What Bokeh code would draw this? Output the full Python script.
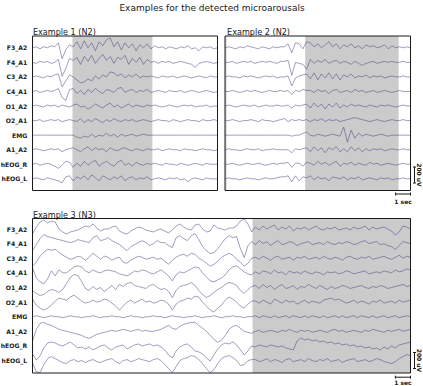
import numpy as np
from bokeh.plotting import figure
from bokeh.layouts import column, row
from bokeh.models import Range1d
from bokeh.embed import file_html
from bokeh.resources import INLINE
from bokeh.core.properties import value

# ------------------------------------------------------------------ data
TITLE = "Examples for the detected microarousals"
CHANNELS = ["F3_A2", "F4_A1", "C3_A2", "C4_A1", "O1_A2", "O2_A1",
            "EMG", "A1_A2", "hEOG_R", "hEOG_L"]
UV_PER_UNIT = 12.5      # amplitude lists below are in units of 12.5 uV
SCALE_UV = 200
SCALE_SEC = 1

# Example 1 (N2): 12.5 s window, samples every 0.25 s
EX1_TITLE = "Example 1 (N2)"
EX1_SECONDS = 12.5
EX1_AROUSALS = [(2.7, 8.1)]
EX1_F3_A2 = [0, 1, -1, 1, 0, 2, 1, 5, -11, -2, 3, 1, 6, -1, 7, 0, 5, -3, 6, 2, 8, 10, 1, 6, -2, 5, 0, 4, -3, 3, 0, 4, -1,
             2, 0, 1, -1, 1, 0, -1, 1, 0, 2, -1, 0, -3, 1, 0, 1, -1, 0]
EX1_F4_A1 = [0, -1, 1, 0, 1, -1, 0, 3, -14, -6, 4, 2, 5, -2, 6, 1, 7, -1, 4, 8, 2, 6, -1, 5, 3, 7, -2, 4, 0, 5,
             -2, 3, 0, 1, -1, 1, 0, 1, -1, 0, 1, 0, -1, -2, -5, -1, 0, 1, 0, -1, 0]
EX1_C3_A2 = [0, 1, 0, -1, 1, 0, 2, 3, -10, -4, 2, 0, -3, -6, -5, -2, -4, 1, -2, 2, 0, 5, 4, 1, 3, -1, 2, 0, 3, -1,
             1, 0, 1, 0, -1, 1, 0, 0, 1, -1, 0, 1, 0, -1, 0, 1, 0, -1, 1, 0, 0]
EX1_C4_A1 = [0, 1, -1, 0, 1, 0, 1, 3, -6, -9, 2, 3, -2, 1, -3, 2, -1, 3, 0, -2, 2, 1, -1, 3, 4, -1, 1, 2, -1, 1,
             0, 2, -1, 0, 1, 0, -1, 1, 0, 0, 1, -1, 0, 1, 0, -1, 0, 1, 0, -1, 0]
EX1_O1_A2 = [0, 1, 0, -1, 1, 0, 1, -1, 1, 0, -1, 1, 2, -1, 0, -3, -1, 2, 0, -2, 1, 3, -1, 1, -2, 0, 2, -1, 1, 0,
             -1, 1, 0, 1, 0, -1, 0, 1, 0, -1, 0, 1, 0, 1, -1, 0, 0, 1, -1, 0, 0]
EX1_O2_A1 = [0, 0, 1, -1, 0, 1, 0, 1, -1, 0, 1, 0, -1, 2, -2, 1, -1, 2, 0, -2, 1, -1, 2, 0, -1, 1, 0, 1, -1, 0,
             1, 0, -1, 0, 1, 0, 0, -1, 1, 0, -1, 0, 1, 0, 0, -1, 1, 0, 0, 1, 0]
EX1_EMG = [0, 0, 0, 0, 0, 0, 0, 0, 0, 0, 0,
           0, -2, -3, -1, -2, 1, -2, 0, -1, 2, -1, 1, -2, 1, -1, 0, 1, -1, 0, 1, 0, 0,
           0, 0, 0, 0, 0, 0, 0, 0, 0, 0, 0, 0, 0, 0, 0, 0, 0, 0]
EX1_A1_A2 = [0, 1, 0, -1, 0, 1, 0, 1, -2, 0, 1, 2, 0, -2, 1, 3, -1, 2, 0, 1, -2, 2, 0, -1, 1, 2, 0, -1, 1, 0,
             -1, 1, 0, 0, 1, -1, 0, 1, 0, 0, -1, 1, 0, 0, -1, 0, 1, 0, 0, -1, 0]
EX1_hEOG_R = [0, 1, -1, 0, 1, 0, -2, -4, -1, 3, 2, -3, 1, -2, 3, -1, 2, 4, -2, 1, 3, 0, -2, 2, 4, -1, 1, -2, 2, 0,
              -1, 1, 0, 1, 0, -1, 1, 0, 0, -1, 1, 0, -1, 0, 1, 0, -1, 1, 0, 0, 0]
EX1_hEOG_L = [0, 1, 0, -1, 1, 0, -1, -2, -4, 2, 3, -2, 2, 0, 3, -1, 4, 1, -2, 3, 1, -1, 2, 0, 3, -2, 1, 2, -1, 1,
              0, 2, -1, 0, 1, 0, -1, 1, 0, 1, -1, 0, -3, 0, 1, 0, -1, 1, 0, 0, 0]

# Example 2 (N2): 12.5 s window, samples every 0.25 s
EX2_TITLE = "Example 2 (N2)"
EX2_SECONDS = 12.5
EX2_AROUSALS = [(0.0, 0.1), (5.4, 11.7)]
EX2_F3_A2 = [0, 1, 0, -1, 1, 0, 2, 1, 0, -1, 1, 0, -1, 1, 0, 1, 1, 4, -5, 5, 4, -1, 6,
             5, 1, 4, 0, 3, 6, 1, 4, -1, 3, 1, 4, 0, 2, -1, 3, 1, 2, 0, 1, 3, -1, 2, 0, 1, 0, 1, 0]
EX2_F4_A1 = [0, 0, 1, -1, 0, 1, 0, 1, -1, 0, 1, 0, 1, 0, -1, 1, 1, 2, -13, 0, -1, -2, -7,
             3, -1, 2, 0, 3, -1, 1, 2, -1, 1, 0, -2, 1, -1, -3, -1, 0, 1, -1, 0, 1, 0, 1, 0, 0, 1, 0, 0]
EX2_C3_A2 = [0, 1, 0, 0, -1, 1, 0, 1, 0, -1, 0, 1, 0, 1, -1, 0, 0, 1, -9, -1, 1, 2, 3,
             -2, 4, -3, 3, -1, 4, -2, 3, -3, 2, 0, 3, -1, 1, 0, 2, -1, 1, 0, 1, -1, 0, 1, 0, 0, 1, 0, 0]
EX2_C4_A1 = [0, 0, 1, 0, -1, 0, 1, 0, 1, 0, -1, 0, 1, 0, 0, 1, 0, 1, -3, 1, 0, 2, 1,
             1, -1, 2, 0, 1, -2, 1, 2, -1, 0, 1, -1, 2, 0, 1, -1, 0, 1, -1, 0, 1, 0, -1, 0, 1, 0, 0, 0]
EX2_O1_A2 = [0, 1, 0, -1, 0, 1, 0, 0, 1, -1, 0, 1, 0, 0, 1, 0, 0, 1, -2, 1, 0, 1, 2,
             -2, 3, -1, 2, -3, 2, -1, 3, -2, 1, -1, 2, 0, 1, 0, -1, 1, 0, -1, 1, 0, 1, 0, -1, 0, 1, 0, 0]
EX2_O2_A1 = [0, 0, 1, 0, -1, 0, 0, 1, 0, -1, 1, 0, 0, -1, 0, 1, 2, -1, 1, 0, 1, 0, 1,
             -1, 1, 0, 2, -1, 1, 0, 1, -1, 0, 1, 2, 3, 2, 1, 0, -1, 0, 1, 0, -1, 0, 1, 0, 0, 1, 0, 0]
EX2_EMG = [0, 0, 0, 0, 0, 0, 0, 0, 0, 0, 0, 0, 0, 0, 0, 0, 0, 0, -1, 0, 0, 2, 3,
           0, -1, 1, 0, -1, 0, 1, 0, -1, 8, -7, 5, -3, 2, -1, 1, 0, -1, 0, 1, 0, -1, 0, 0, 0, 0, 0, 0]
EX2_A1_A2 = [0, 1, 0, 0, -1, 0, 1, 0, 0, 1, -1, 0, 0, 1, 0, 0, 0, 0, -3, 1, 0, 1, 2,
             -2, 3, -1, 2, -3, 2, 0, 3, -2, 1, -2, 3, -1, 2, -2, 1, -1, 1, 0, 1, -1, 0, 1, 0, 0, 1, 0, 0]
EX2_hEOG_R = [0, 0, 1, 0, -1, 0, 1, 0, 0, 1, 0, -1, 0, 1, 0, 1, 1, 2, -3, 1, 1, -2, 2,
              1, -1, 3, 0, 2, -1, 1, 3, -2, 1, 0, 2, -1, 1, 0, -1, 2, 0, 1, -1, 0, 1, 0, -1, 0, 1, 0, 0]
EX2_hEOG_L = [0, 1, 0, 0, -1, 0, 1, 0, 0, -1, 0, 1, 0, 0, 1, 2, 2, 3, -3, 3, -2, 2, 1,
              3, -1, 2, 0, 1, -2, 2, 1, 0, 2, -1, 1, 0, 2, -1, 0, 1, 0, -1, 1, 0, 1, -1, 0, 0, 1, 0, 0]

# Example 3 (N3): 25 s window, samples every 0.25 s
EX3_TITLE = "Example 3 (N3)"
EX3_SECONDS = 25.0
EX3_AROUSALS = [(14.55, 25.0)]
EX3_F3_A2 = [-5, 2, 7, 9, 6, 8, 7, 0, -3, -5, -3, -2, -1, 1, 3, 2, 5, 1, -2, 0,
             0, 2, 3, -2, -4, -5, -2, 0, 2, 1, -1, -2, -3, -1, 0, -2, -4, -1, 3, 5,
             2, 0, -1, 4, 5, 0, -3, -2, 4, 1, 0, -1, 1, 1, 3, 8, 10, 5, -3,
             2, -1, 3, 0, 2, 4, -1, 2, 0, 3, -2, 1, 0, 2, -1, 1, 3, 0, -1, 1,
             0, 2, -1, 0, 1, -1, 2, 0, 1, 3, -1, 2, 0, 1, 2, 0, -2, -6, -3, 3, 2, 0]
EX3_F4_A1 = [-7, -1, 5, 9, 7, 6, 5, 4, 3, 2, 1, 2, 4, 3, 2, 1, 6, 8, 3, 4,
             6, 3, 1, -1, -4, -7, -3, -1, 1, 3, 1, -2, 0, 3, 1, 1, -2, -4, 6, 8,
             5, 3, 8, 10, 4, -3, -7, -10, -9, -5, 0, 5, 8, 6, 7, -5, -14, -2, 2,
             -1, 3, 0, 2, -2, 1, 3, -1, 0, 2, 1, -2, 0, 1, 2, -1, 0, 1, -1, 2,
             0, -1, 1, 0, 2, 1, -1, 0, 2, 3, 0, 1, 2, -1, 0, -2, -3, -6, -2, 2, 1, 0]
EX3_C3_A2 = [-8, -4, 2, 6, 9, 8, 9, 6, 3, 1, -1, 0, 2, 1, -2, 1, 5, 2, -1, 2,
             1, -2, 0, 1, -4, -5, -2, 0, 2, 1, -1, 0, 1, -1, 0, -3, -6, -2, 1, 3,
             4, 2, 5, 4, 0, -2, -5, -8, -6, -3, 1, 3, 5, 3, -1, -4, -8, -5, 0,
             1, -1, 2, 0, -2, 1, 2, -1, 0, 1, -2, 1, 0, 2, -1, 0, 1, -1, 2, 0,
             -1, 1, 0, -2, 1, 2, 0, -1, 1, 0, 2, -1, 0, 1, 2, 0, -1, 1, 3, 0, 2, 1]
EX3_C4_A1 = [5, -5, -9, -11, -6, 2, -3, 3, 0, 0, 3, 6, 7, 6, 2, 0, 3, 1, 0, 2,
             3, 2, 1, -1, -2, -3, -1, 2, 1, 3, 2, 0, -1, 1, 3, 0, -3, -8, -2, 1,
             0, 2, 4, 6, 5, 0, -4, -8, -9, -7, -5, -2, 3, 6, 7, 4, 1, -1, -2,
             1, -1, 2, 1, -1, 3, 0, 1, -2, 2, 0, 1, -1, 2, 0, -1, 1, 0, -2, 1,
             0, 1, -1, 0, 2, 1, -1, 0, 1, 2, -1, 0, 1, 0, 2, 1, 0, 3, 1, 2, 4, 3]
EX3_O1_A2 = [-3, -6, -8, -7, -4, -2, -3, -5, -2, 4, 10, 13, 12, 6, -1, -3, 1, -2, 0, -4,
             -1, 2, -2, 3, 1, 4, 5, 2, 1, 0, -1, 2, 3, 0, -2, -1, -4, -10, -3, 1,
             2, 3, 5, 2, -3, -7, -10, -8, -5, -2, 0, 3, 5, 4, 2, -3, -6, -2, 1,
             2, -1, 3, 0, 2, -2, 1, 3, -1, 0, 2, -2, 1, 0, 3, 1, -1, 2, 0, -2,
             1, -1, 0, 2, 1, -1, 0, 1, 2, 0, -1, 1, 0, 2, 1, -1, 0, 1, 2, 3, 1, 2]
EX3_O2_A1 = [3, -3, -6, -8, -6, -3, 1, 4, 3, 2, 5, 7, 4, 1, -1, 0, 2, 0, 1, 3,
             2, -1, -4, -8, -4, 0, 2, -1, 1, 3, 0, 1, -1, 0, 2, 1, -2, -8, -2, 1,
             2, 4, 3, 6, 5, 0, -4, -8, -10, -6, -3, 2, 5, 3, 0, -4, -6, -2, 1,
             1, -1, 2, 0, -2, 3, 1, -1, 2, 0, 1, -2, 0, 2, -1, 1, 0, -1, 2, 3,
             4, 2, 3, 1, -1, 0, 2, -1, 1, 0, -2, 1, 0, 2, -1, 0, 1, -1, 2, 0, 1, 2]
EX3_EMG = [0, 1, 0, -1, 0, 1, 0, 0, -1, 0, 1, 0, 0, -1, 0, 0, 1, 0, -1, 0,
           0, 1, 0, 0, -1, 0, 1, 0, 0, -1, 0, 0, 1, 0, 0, -1, 0, 1, 0, 0,
           -1, 0, 0, 1, 0, -1, 0, 0, 1, 0, -1, 0, 0, 1, 0, 0, -1, 0, 0,
           1, -1, 1, 0, -1, 1, -1, 0, 1, -1, 1, 0, -1, 1, -1, 1, 0, -1, 1, -1,
           0, 1, -1, 1, -1, 0, 1, -1, 1, 0, -1, 1, -1, 0, 1, -1, 0, 1, -1, 0, 1, 0]
EX3_A1_A2 = [-10, 2, 8, 9, 7, 6, 4, 2, 1, 0, -1, -2, -3, -4, -6, -7, -5, -3, -2, -1,
             0, 1, 0, 1, 2, 1, 0, 1, 2, 0, 1, 0, 0, 1, 2, 4, 6, 3, 2, 5,
             7, 8, 9, 9, 6, 3, 0, -4, -8, -11, -9, -4, 2, 5, 6, 3, 0, -1, -2,
             0, 1, -1, 0, 1, 0, -1, 1, 0, 2, 0, -1, 1, 0, 1, -1, 0, 1, 0, -1,
             1, 2, 0, 1, -1, 0, 1, 0, -1, 1, 0, 2, 1, 0, -1, 1, 0, 1, 2, 0, 1, 2]
EX3_hEOG_R = [-8, -14, -10, -2, 3, 4, 3, 1, 0, 2, 4, 1, -2, -1, -3, -1, -4, -2, 0, 1,
              -2, -4, -1, 0, 1, -3, -1, 1, 2, 0, 1, 2, 0, 1, -1, -4, -9, -12, -5, -1,
              1, 2, -1, -5, -6, -8, -12, -15, -9, -3, 1, 3, 2, 4, 1, -4, -9, -5, 0,
              -1, 1, 0, -1, 1, 0, -1, 0, -2, -3, -4,
              5, 8, 6, 7, 5, 6, 4, 5, 3, 4, 2,
              3, 1, 2, 0, 1, -1, 0, -2, -1, -3,
              -2, -4, -1, -3, 0, -2, 1, 2, 3, 4]
EX3_hEOG_L = [-2, -11, -12, -4, 2, 4, 2, 0, -2, -3, 0, 1, -1, 0, -2, 0, 1, -1, -2, 0,
              1, 2, -1, -3, 0, 1, -1, 0, 2, 1, 0, -1, 1, 2, 0, -4, -8, -12, -6, 0,
              2, 3, 5, 4, 1, -3, -8, -12, -9, -3, 2, 4, 5, 3, 0, -5, -4, 0, 1,
              1, -1, 0, 2, -1, 1, 0, -2, 1, 2, -1, 0, 1, -1, 2, 0, -1, 1, 0, 2,
              -1, 0, 1, -2, 0, 1, 2, -1, 0, 1, -1, 0, 2, 1, -1, -2, -3, -1, 2, 4, 6, 5]

EX1_TRACES = [EX1_F3_A2, EX1_F4_A1, EX1_C3_A2, EX1_C4_A1, EX1_O1_A2, EX1_O2_A1,
              EX1_EMG, EX1_A1_A2, EX1_hEOG_R, EX1_hEOG_L]
EX2_TRACES = [EX2_F3_A2, EX2_F4_A1, EX2_C3_A2, EX2_C4_A1, EX2_O1_A2, EX2_O2_A1,
              EX2_EMG, EX2_A1_A2, EX2_hEOG_R, EX2_hEOG_L]
EX3_TRACES = [EX3_F3_A2, EX3_F4_A1, EX3_C3_A2, EX3_C4_A1, EX3_O1_A2, EX3_O2_A1,
              EX3_EMG, EX3_A1_A2, EX3_hEOG_R, EX3_hEOG_L]

# ------------------------------------------------------------------ style
FONT = value("DejaVu Sans")
INK = "#1a1a1a"
TRACE = "#34367c"
SHADE = "#cbcbcb"


def base_fig(width, height, xr, yr):
    return figure(width=width, height=height, x_range=xr, y_range=yr,
                  output_backend="svg", toolbar_location=None,
                  x_axis_type=None, y_axis_type=None, min_border=0,
                  outline_line_color=None, background_fill_color="white",
                  border_fill_color="white")


def panel(width, height, left_px, right_px, top_px, bottom_px, row0_px, row_gap,
          seconds, arousals, traces, title, title_x_px, title_base_px,
          labels=True, bars=None):
    sx = (right_px - left_px) / seconds             # pixels per second
    xr = Range1d(-left_px / sx, (width - left_px) / sx)
    yr = Range1d(row0_px - height, row0_px)         # 1 unit = 1 px = 12.5 uV
    p = base_fig(width, height, xr, yr)
    X = lambda px: (px - left_px) / sx
    Y = lambda py: row0_px - py
    top, bottom = Y(top_px), Y(bottom_px)

    for a, b in arousals:
        p.quad(left=[max(a, 0)], right=[min(b, seconds)], top=[top], bottom=[bottom],
               fill_color=SHADE, line_color=None)
    for k, vals in enumerate(traces):
        t = np.linspace(0, seconds, len(vals))
        p.line(t, np.asarray(vals, float) - k * row_gap,
               line_color=TRACE, line_width=0.6, line_alpha=0.8)
    p.quad(left=[0], right=[seconds], top=[top], bottom=[bottom],
           fill_color=None, line_color=INK, line_width=1)

    p.text(x=[X(title_x_px)], y=[Y(title_base_px)], text=[title],
           text_font=FONT, text_font_size="8.1px", text_color=INK,
           text_align="left", text_baseline="alphabetic")
    if labels:
        p.text(x=[X(left_px - 5.3)] * len(CHANNELS),
               y=[-k * row_gap for k in range(len(CHANNELS))], text=CHANNELS,
               text_font=FONT, text_font_size="6.1px", text_font_style="bold",
               text_color=INK, text_align="right", text_baseline="middle")
    if bars:
        vb_above, hb_below, txt_below = bars
        amp = SCALE_UV / UV_PER_UNIT
        xb = seconds + 4 / sx
        y0 = bottom + vb_above
        y1 = y0 + amp
        cap = 1.5 / sx
        p.segment(x0=[xb, xb - cap, xb - cap], y0=[y0, y0, y1],
                  x1=[xb, xb + cap, xb + cap], y1=[y1, y0, y1],
                  line_color=INK, line_width=1)
        p.text(x=[xb + 4.8 / sx], y=[(y0 + y1) / 2], text=[f"{SCALE_UV} uV"],
               angle=-np.pi / 2, text_font=FONT, text_font_size="6px",
               text_font_style="bold", text_color=INK,
               text_align="center", text_baseline="middle")
        yh = bottom - hb_below
        t0 = seconds - SCALE_SEC
        p.segment(x0=[t0, t0, seconds], y0=[yh, yh - 1.5, yh - 1.5],
                  x1=[seconds, t0, seconds], y1=[yh, yh + 1.5, yh + 1.5],
                  line_color=INK, line_width=1)
        p.text(x=[seconds - SCALE_SEC / 2], y=[yh - txt_below], text=[f"{SCALE_SEC} sec"],
               text_font=FONT, text_font_size="6px", text_font_style="bold",
               text_color=INK, text_align="center", text_baseline="middle")
    return p


# title strip
p0 = base_fig(423, 20, Range1d(0, 1), Range1d(0, 20))
p0.text(x=[0.5], y=[20 - 7.8], text=[TITLE], text_font=FONT, text_font_size="9px",
        text_color=INK, text_align="center", text_baseline="alphabetic")

p1 = panel(221, 185, 32, 217, 15.5, 170, 27.3, 14.56, EX1_SECONDS, EX1_AROUSALS,
           EX1_TRACES, EX1_TITLE, 32.4, 11.7, labels=True, bars=None)
p2 = panel(202, 185, 3.5, 189, 15.5, 170, 27.3, 14.56, EX2_SECONDS, EX2_AROUSALS,
           EX2_TRACES, EX2_TITLE, 5.6, 11.7, labels=False, bars=(7.5, 3.5, 7.5))
p3 = panel(423, 181, 32, 410, 13, 167.5, 23.5, 14.62, EX3_SECONDS, EX3_AROUSALS,
           EX3_TRACES, EX3_TITLE, 32.4, 9.5, labels=True, bars=(4.5, 4.2, 5.6))

layout = column(p0, row(p1, p2), p3)
open("out.html", "w").write(file_html(layout, INLINE))
